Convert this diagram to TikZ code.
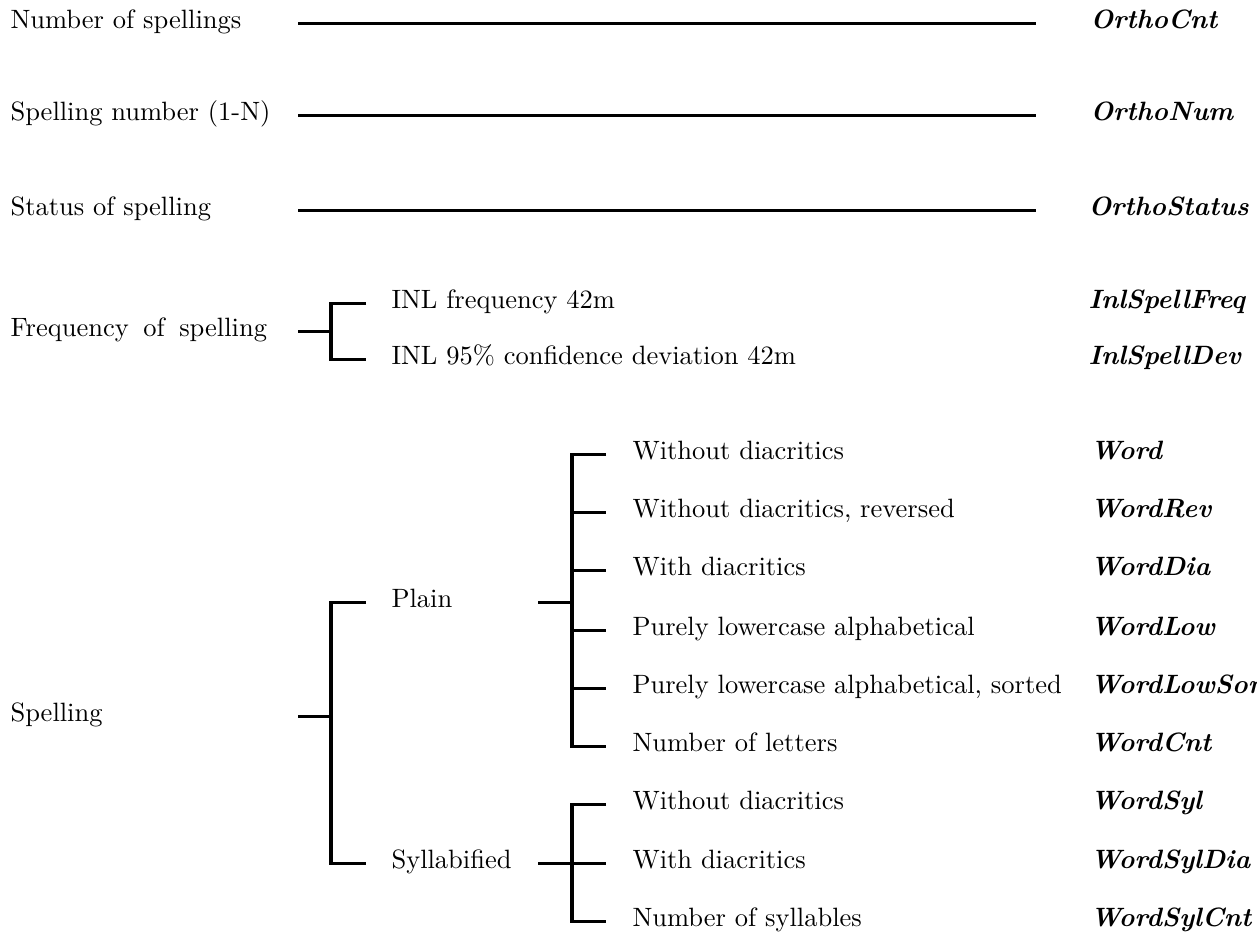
\documentclass[tikz,border=0pt]{standalone}
\begin{document}
\begin{tikzpicture}[x=0.37736pt,y=-0.37736pt,yshift=-1.5*0.37736pt,
  lbl/.style={anchor=base west,inner sep=0pt,yshift=-1.8pt,font=\normalsize},
  key/.style={lbl,font=\normalsize\bfseries\itshape},
  wire/.style={line width=1.5pt,line cap=butt,line join=miter}]
\useasboundingbox (0,-1.5) rectangle (1257,932.5);

% --- simple one-to-one fields ---
\node[lbl] (cntL) at (10,22) {Number of spellings};
\node[key] (cntK) at (1090,22) {OrthoCnt};
\coordinate (cntA) at (298,22); \coordinate (cntB) at (1036,22);
\draw[wire] (cntA) -- (cntB);

\node[lbl] (numL) at (10,114) {Spelling number (1-N)};
\node[key] (numK) at (1090,114) {OrthoNum};
\coordinate (numA) at (298,114); \coordinate (numB) at (1036,114);
\draw[wire] (numA) -- (numB);

\node[lbl] (stL) at (10,209) {Status of spelling};
\node[key] (stK) at (1088,209) {OrthoStatus};
\coordinate (stA) at (298,209); \coordinate (stB) at (1036,209);
\draw[wire] (stA) -- (stB);

% --- frequency ---
\node[lbl] (frL) at (10,330) {Frequency\hspace{5.5pt}of\hspace{5.5pt}spelling};
\node[lbl] (fr1) at (391,302) {INL frequency 42m};
\node[lbl] (fr2) at (391,358) {INL 95\% confidence deviation 42m};
\node[key] (fr1K) at (1088,302) {InlSpellFreq};
\node[key] (fr2K) at (1088,358) {InlSpellDev};
\coordinate (frA) at (298,330); \coordinate (frJ) at (331,330);
\coordinate (frT) at (331,302); \coordinate (frB) at (331,358);
\coordinate (frT2) at (366,302); \coordinate (frB2) at (366,358);
\draw[wire] (frA) -- (frJ);
\draw[wire] (frT2) -- (frT) -- (frB) -- (frB2);

% --- spelling ---
\node[lbl] (spL) at (10,715) {Spelling};
\node[lbl] (plain) at (391,601) {Plain};
\node[lbl] (syl) at (391,862) {Syllabified};
\coordinate (spA) at (298,715); \coordinate (spJ) at (331,715);
\coordinate (spT) at (331,601); \coordinate (spB) at (331,862);
\coordinate (spT2) at (366,601); \coordinate (spB2) at (366,862);
\draw[wire] (spA) -- (spJ);
\draw[wire] (spT2) -- (spT) -- (spB) -- (spB2);

% plain spellings
\coordinate (plA) at (538,601); \coordinate (plJ) at (572,601);
\draw[wire] (plA) -- (plJ);
\foreach \n/\y/\t/\k in {
  p1/453/{Without diacritics}/{Word},
  p2/511/{Without diacritics, reversed}/{WordRev},
  p3/569/{With diacritics}/{WordDia},
  p4/629/{Purely lowercase alphabetical}/{WordLow},
  p5/687/{Purely lowercase alphabetical, sorted}/{WordLowSort},
  p6/745/{Number of letters}/{WordCnt}}{
  \node[lbl] (\n) at (632,\y) {\t};
  \node[key] (\n K) at (1090,\y) {\k};
  \coordinate (\n a) at (572,\y); \coordinate (\n b) at (606,\y);
}
\draw[wire] (p1b) -- (p1a) -- (p6a) -- (p6b);
\foreach \n in {p2,p3,p4,p5} \draw[wire] (\n a) -- (\n b);

% syllabified spellings
\coordinate (syA) at (538,862); \coordinate (syJ) at (572,862);
\draw[wire] (syA) -- (syJ);
\foreach \n/\y/\t/\k in {
  s1/803/{Without diacritics}/{WordSyl},
  s2/862/{With diacritics}/{WordSylDia},
  s3/920/{Number of syllables}/{WordSylCnt}}{
  \node[lbl] (\n) at (632,\y) {\t};
  \node[key] (\n K) at (1090,\y) {\k};
  \coordinate (\n a) at (572,\y); \coordinate (\n b) at (606,\y);
}
\draw[wire] (s1b) -- (s1a) -- (s3a) -- (s3b);
\draw[wire] (s2a) -- (s2b);
\end{tikzpicture}
\end{document}
